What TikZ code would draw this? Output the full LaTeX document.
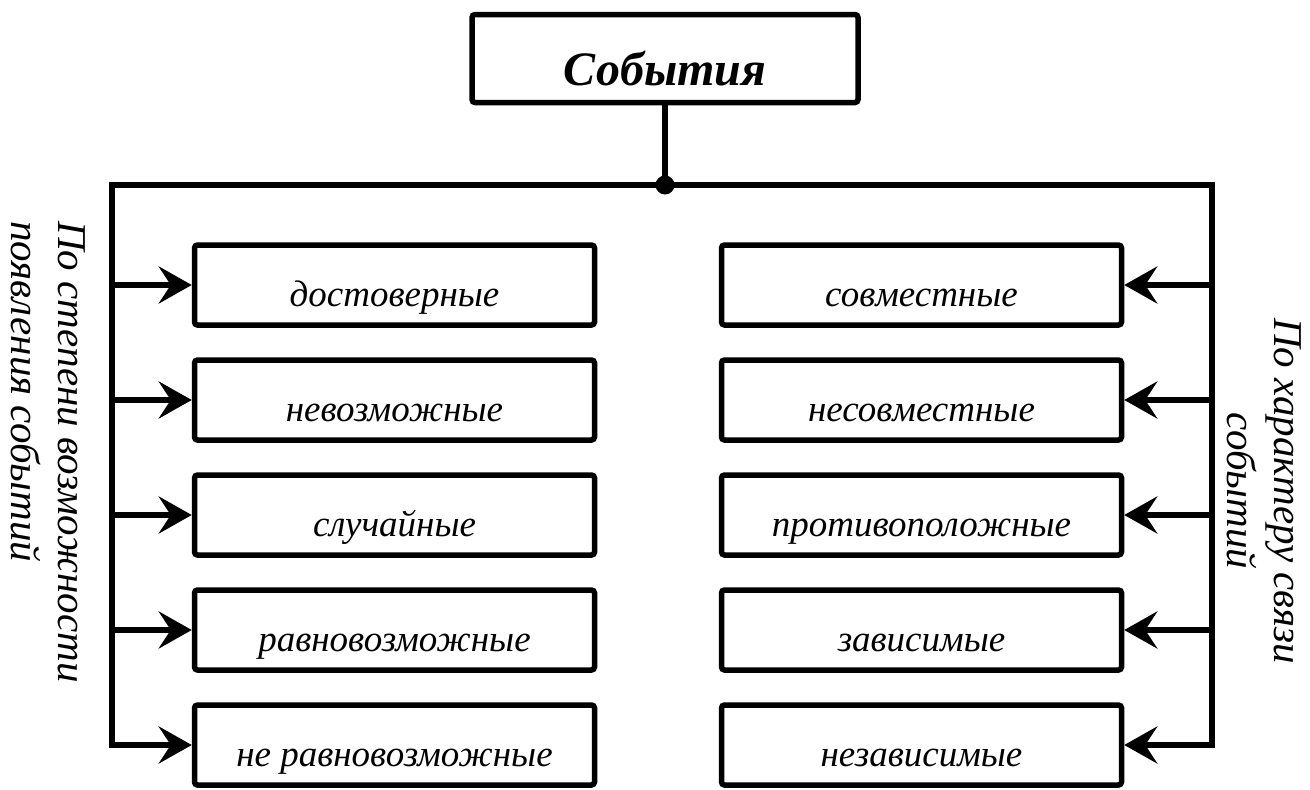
\documentclass[tikz,border=0pt]{standalone}
\usepackage{fontspec}
\setmainfont{Liberation Serif}
\usetikzlibrary{arrows.meta}
\begin{document}
\begin{tikzpicture}[x=1pt,y=-1pt,
  box/.style={draw, line width=5.5pt, rounded corners=3pt, minimum width=400pt,
    minimum height=80pt, inner sep=0pt, font=\fontsize{37}{40}\selectfont\itshape,
    text height=42pt, text depth=0pt},
  titlebox/.style={draw, line width=5.5pt, rounded corners=3pt, minimum width=386pt,
    minimum height=88pt, inner sep=0pt, font=\fontsize{48}{52}\selectfont\bfseries\itshape,
    text height=54pt, text depth=0pt},
  wire/.style={line width=5.5pt},
  tip/.style={Stealth[length=33pt,width=37pt,inset=12pt]},
  arr/.style={wire, -{Stealth[length=33pt,width=37pt,inset=12pt]}},
  botharr/.style={wire, {Stealth[length=33pt,width=37pt,inset=12pt]}-{Stealth[length=33pt,width=37pt,inset=12pt]}},
  side/.style={rotate=-90, inner sep=0pt, font=\fontsize{41}{47}\selectfont\itshape}
]
\useasboundingbox (0,0) rectangle (1310,790);

\node[titlebox] (title) at (665,58.5) {События};

\coordinate (bl) at (112,185);
\coordinate (br) at (1212,185);
\coordinate (hub) at (665,185);

\node[box] (l1) at (394.5,285) {достоверные};
\node[box] (l2) at (394.5,400) {невозможные};
\node[box] (l3) at (394.5,515) {случайные};
\node[box] (l4) at (394.5,630) {равновозможные};
\node[box] (l5) at (394.5,745) {не равновозможные};

\node[box] (r1) at (921.5,285) {совместные};
\node[box] (r2) at (921.5,400) {несовместные};
\node[box] (r3) at (921.5,515) {противоположные};
\node[box] (r4) at (921.5,630) {зависимые};
\node[box] (r5) at (921.5,745) {независимые};

\draw[wire] (title.south) -- (hub);
\draw[botharr] (l5.west) -| (bl) -- (br) |- (r5.east);
\fill (hub) circle (9.5);

\foreach \i in {1,2,3,4} {
  \draw[arr] (bl |- l\i.west) -- (l\i.west);
  \draw[arr] (br |- r\i.east) -- (r\i.east);
}

\node[side, align=left] (lside) at (48,452) {По степени возможности\\появления событий};
\node[side, align=center] (rside) at (1264,491) {По характеру связи\\событий};
\end{tikzpicture}
\end{document}
